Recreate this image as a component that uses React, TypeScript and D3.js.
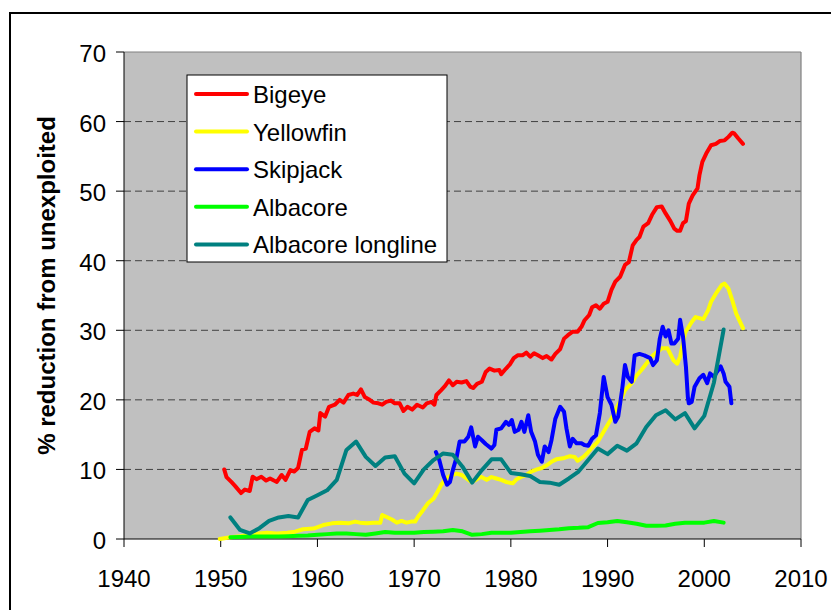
import React from "react";
import * as d3 from "d3";

type Pt = [number, number];

const yTicks = [0, 10, 20, 30, 40, 50, 60, 70];
const xTicks = [1940, 1950, 1960, 1970, 1980, 1990, 2000, 2010];

const bigeye: Pt[] = [
  [1950.36, 10.0], [1950.6, 8.9], [1951.1, 8.2], [1951.5, 7.6], [1952.1, 6.6], [1952.5, 7.1],
  [1953.0, 6.9], [1953.3, 8.95], [1953.7, 8.6], [1954.2, 8.95], [1954.7, 8.4], [1955.1, 8.7],
  [1955.5, 8.4], [1955.8, 8.2], [1956.3, 9.2], [1956.7, 8.5], [1957.2, 9.9], [1957.6, 9.7],
  [1958.0, 10.2], [1958.4, 12.8], [1958.8, 13.0], [1959.2, 15.4], [1959.7, 15.9], [1960.1, 15.6],
  [1960.3, 18.1], [1960.8, 17.6], [1961.2, 19.0], [1961.8, 19.3], [1962.3, 20.0], [1962.7, 19.6],
  [1963.2, 20.7], [1963.7, 20.9], [1964.1, 20.7], [1964.5, 21.5], [1964.9, 20.4], [1965.3, 20.1],
  [1965.8, 19.6], [1966.3, 19.5], [1966.7, 19.3], [1967.1, 19.7], [1967.6, 19.9], [1968.0, 19.5],
  [1968.5, 19.5], [1968.9, 18.4], [1969.3, 19.0], [1969.8, 18.6], [1970.3, 19.3], [1970.9, 18.9],
  [1971.3, 19.5], [1971.8, 19.7], [1972.1, 19.3], [1972.3, 20.7], [1972.8, 21.4], [1973.2, 22.0],
  [1973.6, 22.8], [1974.0, 22.1], [1974.4, 22.6], [1974.9, 22.5], [1975.4, 22.7], [1975.8, 21.9],
  [1976.1, 21.7], [1976.5, 22.3], [1977.0, 22.6], [1977.4, 24.0], [1977.8, 24.5], [1978.3, 24.2],
  [1978.8, 24.3], [1979.0, 23.7], [1979.5, 24.5], [1979.9, 25.1], [1980.3, 26.0], [1980.7, 26.4],
  [1981.2, 26.4], [1981.6, 26.8], [1982.0, 26.2], [1982.4, 26.7], [1982.8, 26.4], [1983.3, 26.0],
  [1983.7, 26.3], [1984.2, 25.8], [1984.6, 26.6], [1985.1, 27.3], [1985.5, 28.8], [1985.9, 29.3],
  [1986.4, 29.8], [1986.9, 29.8], [1987.3, 30.5], [1987.6, 31.4], [1988.1, 32.2], [1988.4, 33.3],
  [1988.8, 33.6], [1989.2, 33.1], [1989.6, 33.8], [1990.0, 34.1], [1990.4, 35.8], [1990.8, 37.0],
  [1991.3, 37.7], [1991.8, 39.4], [1992.2, 39.8], [1992.6, 42.2], [1993.0, 43.0], [1993.3, 43.4],
  [1993.7, 44.9], [1994.2, 45.4], [1994.6, 46.6], [1995.1, 47.7], [1995.6, 47.8], [1996.0, 46.8],
  [1996.5, 45.7], [1996.9, 44.6], [1997.2, 44.3], [1997.5, 44.3], [1997.8, 45.4], [1998.1, 45.7],
  [1998.4, 48.2], [1998.8, 49.4], [1999.3, 50.4], [1999.5, 52.3], [1999.8, 54.2], [2000.2, 55.4],
  [2000.7, 56.6], [2001.2, 56.8], [2001.6, 57.2], [2002.1, 57.3], [2002.5, 57.8], [2002.9, 58.4],
  [2003.1, 58.3], [2003.5, 57.6], [2004.0, 56.8],
];

const yellowfin: Pt[] = [
  [1949.9, 0.0], [1951.0, 0.25], [1952.0, 0.4], [1953.0, 0.6], [1953.9, 0.8], [1954.8, 0.9],
  [1955.8, 0.8], [1956.9, 0.9], [1957.7, 1.05], [1958.5, 1.4], [1959.6, 1.5], [1960.6, 2.0],
  [1961.5, 2.25], [1962.3, 2.35], [1963.2, 2.25], [1963.9, 2.5], [1964.4, 2.35], [1965.1, 2.25],
  [1965.8, 2.35], [1966.5, 2.35], [1966.7, 3.45], [1967.1, 3.2], [1967.7, 2.8], [1968.2, 2.35],
  [1968.7, 2.6], [1969.2, 2.35], [1969.7, 2.5], [1970.1, 2.5], [1970.4, 3.2], [1970.9, 4.1],
  [1971.4, 5.1], [1972.0, 5.8], [1972.5, 7.0], [1972.8, 7.8], [1973.3, 8.7], [1973.9, 9.2],
  [1974.4, 9.4], [1974.9, 9.2], [1975.4, 8.7], [1975.9, 8.2], [1976.4, 8.5], [1976.9, 8.95],
  [1977.5, 8.5], [1978.0, 8.9], [1978.5, 8.7], [1979.0, 8.5], [1979.5, 8.2], [1980.2, 8.0],
  [1980.6, 8.6], [1981.1, 8.95], [1981.6, 9.2], [1982.1, 9.7], [1982.7, 10.0], [1983.2, 10.2],
  [1983.7, 10.6], [1984.2, 11.1], [1984.7, 11.45], [1985.4, 11.6], [1986.1, 11.9], [1986.6, 11.8],
  [1986.9, 11.25], [1987.5, 11.8], [1988.0, 12.5], [1988.5, 13.3], [1989.0, 14.0], [1989.5, 15.2],
  [1990.0, 16.4], [1990.6, 17.8], [1991.0, 19.0], [1991.3, 19.8], [1991.8, 21.4], [1992.5, 22.4],
  [1993.0, 23.5], [1993.5, 24.3], [1994.0, 25.2], [1994.7, 26.4], [1995.6, 27.4], [1996.2, 27.4],
  [1996.8, 25.7], [1997.2, 25.2], [1997.5, 26.2], [1998.0, 29.6], [1998.7, 31.2], [1999.1, 31.9],
  [1999.9, 31.6], [2000.4, 32.9], [2000.7, 34.1], [2001.3, 35.5], [2001.8, 36.5], [2002.1, 36.7],
  [2002.5, 36.0], [2002.9, 34.3], [2003.3, 32.4], [2003.7, 31.2], [2004.0, 30.3],
];

const skipjack: Pt[] = [
  [1972.25, 12.5], [1972.6, 11.35], [1973.0, 9.2], [1973.4, 7.8], [1973.7, 8.2], [1974.0, 9.9],
  [1974.4, 11.8], [1974.7, 14.0], [1975.2, 14.0], [1975.6, 14.7], [1975.9, 16.05], [1976.3, 13.3],
  [1976.6, 14.7], [1977.0, 14.2], [1977.4, 13.65], [1978.0, 13.0], [1978.3, 13.5], [1978.5, 15.7],
  [1979.0, 15.9], [1979.5, 16.85], [1979.8, 16.4], [1980.1, 17.1], [1980.4, 15.4], [1980.8, 15.7],
  [1981.1, 16.85], [1981.4, 15.4], [1981.8, 17.8], [1982.1, 15.4], [1982.5, 14.0], [1982.8, 12.1],
  [1983.2, 11.1], [1983.5, 13.3], [1983.9, 12.5], [1984.2, 14.2], [1984.6, 17.3], [1985.1, 19.0],
  [1985.5, 18.3], [1985.75, 15.9], [1986.1, 13.3], [1986.4, 14.4], [1986.8, 13.75], [1987.3, 13.75],
  [1987.6, 13.5], [1988.0, 13.4], [1988.4, 14.4], [1988.8, 14.9], [1989.2, 18.1], [1989.6, 23.3],
  [1990.0, 20.4], [1990.4, 19.3], [1990.8, 16.85], [1991.1, 17.6], [1991.5, 21.4], [1991.8, 25.0],
  [1992.1, 23.3], [1992.5, 22.6], [1992.8, 26.4], [1993.3, 26.6], [1993.8, 26.4], [1994.4, 26.0],
  [1994.7, 25.0], [1995.1, 25.7], [1995.4, 28.8], [1995.7, 30.5], [1996.0, 29.1], [1996.3, 30.0],
  [1996.6, 28.1], [1996.9, 28.1], [1997.3, 28.8], [1997.5, 31.5], [1997.8, 29.1], [1998.1, 24.8],
  [1998.3, 20.4], [1998.4, 19.5], [1998.7, 19.7], [1999.0, 21.9], [1999.5, 23.1], [1999.9, 23.6],
  [2000.3, 22.4], [2000.6, 23.8], [2001.0, 23.3], [2001.3, 24.0], [2001.7, 24.8], [2002.0, 23.8],
  [2002.2, 22.6], [2002.6, 21.9], [2002.8, 19.5],
];

const albacore: Pt[] = [
  [1951, 0.25], [1952, 0.3], [1953, 0.35], [1954, 0.35], [1955, 0.35], [1956, 0.35], [1957, 0.4],
  [1958, 0.45], [1959, 0.5], [1960, 0.6], [1961, 0.7], [1962, 0.8], [1963, 0.8], [1964, 0.7],
  [1965, 0.6], [1966, 0.8], [1967, 1.0], [1968, 0.9], [1969, 0.9], [1970, 0.9], [1971, 1.0],
  [1972, 1.05], [1973, 1.1], [1974, 1.3], [1975, 1.1], [1976, 0.6], [1977, 0.7], [1978, 0.9],
  [1979, 0.9], [1980, 0.9], [1981, 1.0], [1982, 1.1], [1983, 1.2], [1984, 1.3], [1985, 1.4],
  [1986, 1.55], [1987, 1.6], [1988, 1.7], [1989, 2.3], [1990, 2.4], [1991, 2.6], [1992, 2.4],
  [1993, 2.2], [1994, 1.9], [1995, 1.9], [1996, 1.95], [1997, 2.2], [1998, 2.35], [1999, 2.35],
  [2000, 2.35], [2001, 2.6], [2002, 2.35],
];

const albacoreLongline: Pt[] = [
  [1951, 3.1], [1952, 1.3], [1953, 0.8], [1954, 1.55], [1955, 2.6], [1956, 3.1], [1957, 3.3],
  [1958, 3.1], [1959, 5.6], [1960, 6.3], [1961, 7.0], [1962, 8.5], [1963, 12.8], [1964, 14.0],
  [1965, 11.8], [1966, 10.5], [1967, 11.7], [1968, 11.9], [1969, 9.4], [1970, 8.0], [1971, 10.0],
  [1972, 11.35], [1973, 12.3], [1974, 12.1], [1975, 10.4], [1976, 8.1], [1977, 9.9], [1978, 11.45],
  [1979, 11.45], [1980, 9.5], [1981, 9.3], [1982, 9.05], [1983, 8.2], [1984, 8.1], [1985, 7.8],
  [1986, 8.7], [1987, 9.7], [1988, 11.35], [1989, 13.0], [1990, 12.2], [1991, 13.4], [1992, 12.7],
  [1993, 13.75], [1994, 16.1], [1995, 17.8], [1996, 18.5], [1997, 17.2], [1998, 18.1], [1999, 15.9],
  [2000, 17.7], [2001, 22.5], [2002, 30.1],
];

const seriesNames = ["Bigeye", "Yellowfin", "Skipjack", "Albacore", "Albacore longline"];
const seriesColors = ["#FF0000", "#FFFF00", "#0000FF", "#00FF00", "#008080"];
const seriesData = [bigeye, yellowfin, skipjack, albacore, albacoreLongline];

export default function App() {
  const left = 124, right = 801, top = 52, bottom = 539;
  const x = d3.scaleLinear().domain([1940, 2010]).range([left, right]);
  const y = d3.scaleLinear().domain([0, 70]).range([bottom, top]);
  const line = d3
    .line<Pt>()
    .x((d) => x(d[0]))
    .y((d) => y(d[1]));

  const font = "'Liberation Sans', Arial, sans-serif";
  const legX = 187, legY = 75, legW = 260, legH = 187;
  const rowY = (i: number) => 94 + i * 37.6;

  return (
    <svg
      width={831}
      height={610}
      style={{ position: "absolute", left: 0, top: 0, background: "#fff" }}
      fontFamily={font}
    >
      <rect x={0} y={0} width={831} height={610} fill="#fff" />
      <rect x={10} y={13} width={830} height={610} fill="none" stroke="#000" strokeWidth={2} />
      {/* plot area */}
      <rect x={left} y={top} width={right - left} height={bottom - top} fill="#C0C0C0" />
      {yTicks
        .filter((t) => t > 0 && t < 70)
        .map((t) => (
          <line
            key={"g" + t}
            x1={left}
            x2={right}
            y1={y(t)}
            y2={y(t)}
            stroke="#404040"
            strokeWidth={1}
            strokeDasharray="7,4"
          />
        ))}
      <line x1={left} x2={right} y1={top} y2={top} stroke="#808080" strokeWidth={1.2} />
      <line x1={right} x2={right} y1={top} y2={bottom} stroke="#808080" strokeWidth={1.2} />
      <line x1={left} x2={left} y1={top} y2={bottom} stroke="#000" strokeWidth={1} />
      <line x1={left} x2={right} y1={bottom} y2={bottom} stroke="#000" strokeWidth={1} />
      {yTicks.map((t) => (
        <g key={"yt" + t}>
          <line x1={left - 8} x2={left} y1={y(t)} y2={y(t)} stroke="#000" strokeWidth={1} />
          <text x={106} y={y(t) + 10} textAnchor="end" fontSize={24} fill="#000">
            {t}
          </text>
        </g>
      ))}
      {xTicks.map((t) => (
        <g key={"xt" + t}>
          <line x1={x(t)} x2={x(t)} y1={bottom} y2={bottom + 8} stroke="#000" strokeWidth={1} />
          <text x={x(t)} y={587} textAnchor="middle" fontSize={24} fill="#000">
            {t}
          </text>
        </g>
      ))}
      <text
        transform="translate(55,285.5) rotate(-90)"
        textAnchor="middle"
        fontSize={24}
        fontWeight="bold"
        fill="#000"
      >
        % reduction from unexploited
      </text>
      {/* series */}
      {seriesData.map((d, i) => (
        <path
          key={"s" + i}
          d={line(d) || ""}
          fill="none"
          stroke={seriesColors[i]}
          strokeWidth={4}
          strokeLinejoin="round"
          strokeLinecap="round"
        />
      ))}
      {/* legend */}
      <rect x={legX} y={legY} width={legW} height={legH} fill="#fff" stroke="#000" strokeWidth={1} />
      {seriesNames.map((n, i) => (
        <g key={"l" + i}>
          <line
            x1={196}
            x2={247}
            y1={rowY(i)}
            y2={rowY(i)}
            stroke={seriesColors[i]}
            strokeWidth={4}
            strokeLinecap="round"
          />
          <text x={253} y={rowY(i) + 9} fontSize={24} fill="#000">
            {n}
          </text>
        </g>
      ))}
    </svg>
  );
}
